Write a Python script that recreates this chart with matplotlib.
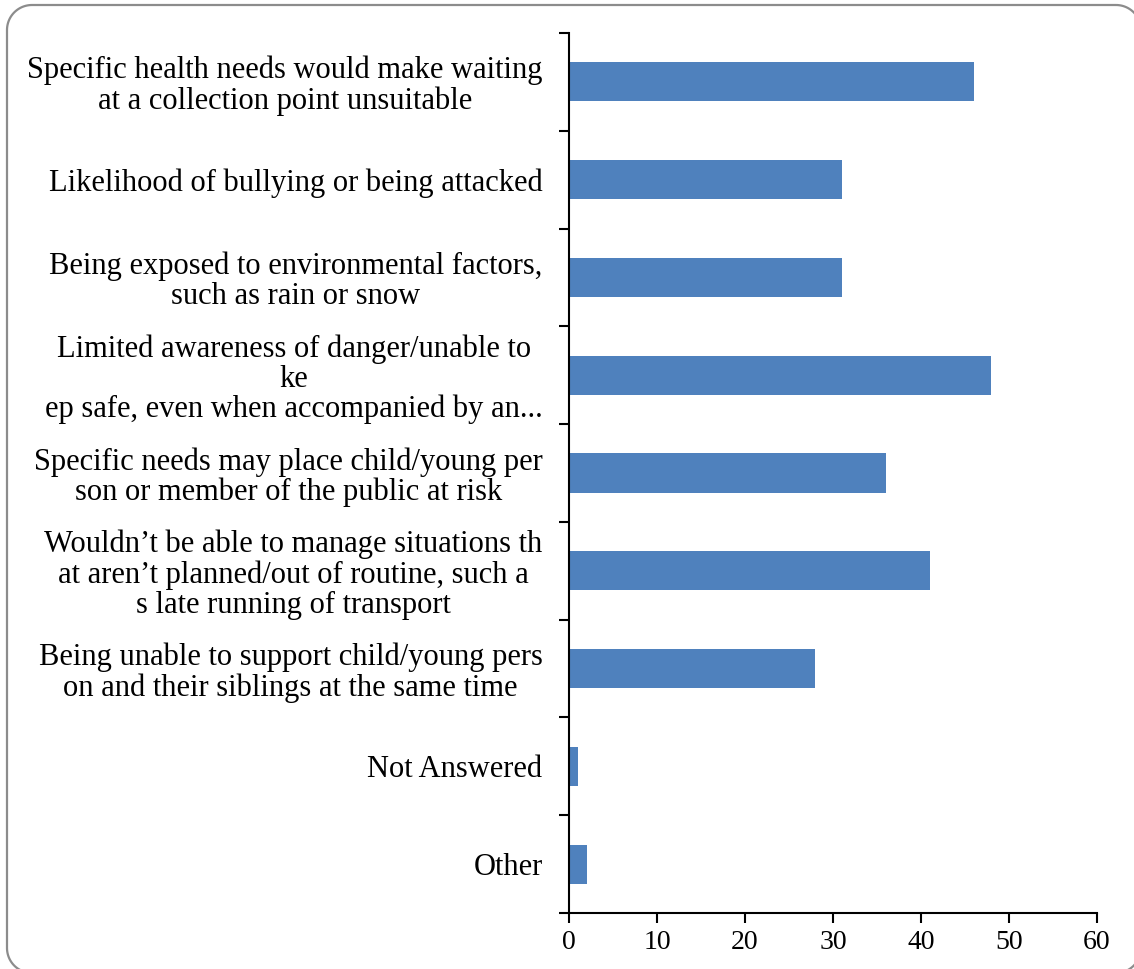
import matplotlib
matplotlib.use("Agg")
import matplotlib.pyplot as plt
from matplotlib.patches import PathPatch
from matplotlib.path import Path
import numpy as np

categories = [
    "Specific health needs would make waiting\nat a collection point unsuitable",
    "Likelihood of bullying or being attacked",
    "Being exposed to environmental factors,\nsuch as rain or snow",
    "Limited awareness of danger/unable to\nke\nep safe, even when accompanied by an...",
    "Specific needs may place child/young per\nson or member of the public at risk",
    "Wouldn\u2019t be able to manage situations th\nat aren\u2019t planned/out of routine, such a\ns late running of transport",
    "Being unable to support child/young pers\non and their siblings at the same time",
    "Not Answered",
    "Other",
]
values = [46, 31, 31, 48, 36, 41, 28, 1, 2]
xticks = [0, 10, 20, 30, 40, 50, 60]

W, H = 1134, 969
fig = plt.figure(figsize=(W / 100, H / 100), dpi=100)
plt.rcParams['font.family'] = ['Liberation Serif', 'DejaVu Serif']

# background rounded frame in pixel units (y down)
bg = fig.add_axes([0, 0, 1, 1], zorder=-1)
bg.set_xlim(0, W)
bg.set_ylim(H, 0)
bg.axis('off')


def rounded_rect(x0, y0, x1, y1, r, n=24):
    pts = []
    corners = [((x1 - r, y0 + r), -90, 0), ((x1 - r, y1 - r), 0, 90),
               ((x0 + r, y1 - r), 90, 180), ((x0 + r, y0 + r), 180, 270)]
    for (cx, cy), a0, a1 in corners:
        t = np.radians(np.linspace(a0, a1, n))
        pts.extend(zip(cx + r * np.cos(t), cy + r * np.sin(t)))
    pts.append(pts[0])
    return Path(pts)


frame = PathPatch(rounded_rect(7, 5, 1141, 973, 25), facecolor='none',
                  edgecolor='#8c8c8c', linewidth=1.6, clip_on=False)
bg.add_patch(frame)

ax = fig.add_axes([569 / W, 1 - 913 / H, (1097 - 569) / W, (913 - 33) / H])
ax.patch.set_alpha(0)

n = len(categories)
ypos = np.arange(n)[::-1]
ax.barh(ypos, values, height=0.4, color="#4F81BD", zorder=2)

ax.set_xlim(0, 60)
ax.set_ylim(-0.5, n - 0.5)
ax.set_xticks(xticks)
ax.set_xticklabels([str(t) for t in xticks], fontsize=20)
ax.set_yticks(ypos)
ax.set_yticklabels(categories, fontsize=22, multialignment='center', linespacing=1.05)
ax.set_yticks(np.arange(-0.5, n, 1.0), minor=True)
ax.tick_params(axis='y', which='major', length=0, pad=19)
ax.tick_params(axis='y', which='minor', length=7, width=1.5, direction='out')
ax.tick_params(axis='x', which='major', length=7, width=1.5, direction='out', pad=5)

for s in ['top', 'right']:
    ax.spines[s].set_visible(False)
for s in ['left', 'bottom']:
    ax.spines[s].set_linewidth(1.5)
    ax.spines[s].set_color('black')

fig.savefig("out.png", dpi=100)
